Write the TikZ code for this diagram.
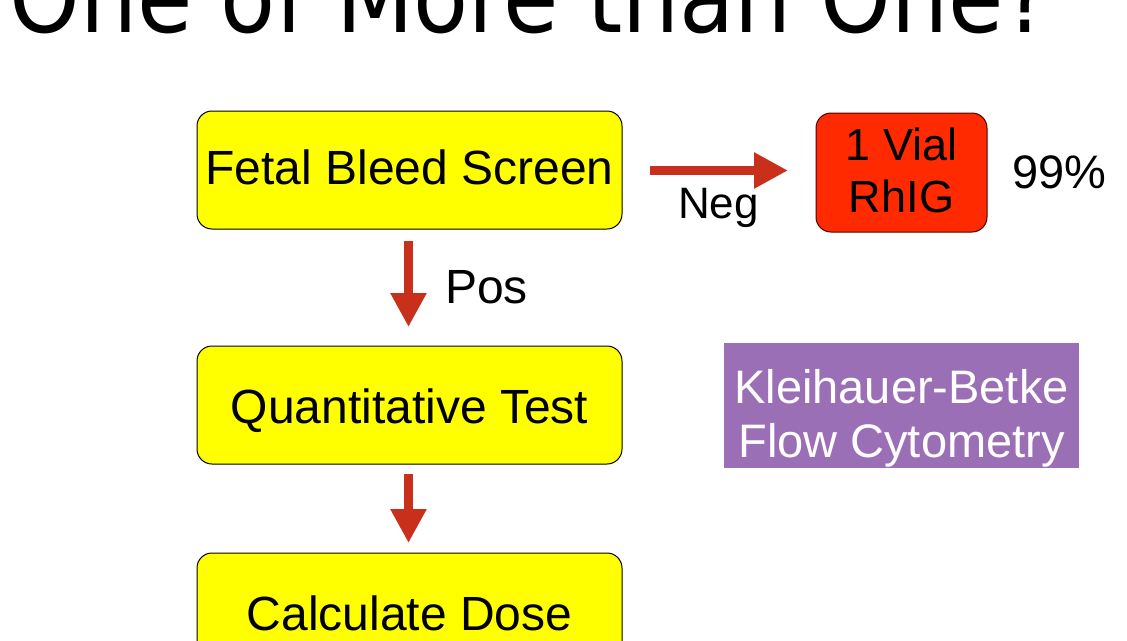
\documentclass[tikz,border=0pt]{standalone}
\usepackage{fontspec}
\setmainfont{Liberation Sans}
\newfontfamily\titlefont{DejaVu Sans Condensed}
\usetikzlibrary{arrows.meta}
\definecolor{boxyellow}{HTML}{FFFF00}
\definecolor{vialred}{HTML}{FF2A00}
\definecolor{arrowred}{HTML}{C8301C}
\definecolor{kbpurple}{HTML}{9B6FB5}
\tikzset{
  flowbox/.style={draw=black, line width=1pt, fill=boxyellow, rounded corners=15pt,
    minimum width=425pt, minimum height=118pt, inner sep=0pt,
    text height=36pt, text depth=0pt, font=\fontsize{48}{54}\selectfont},
  vialbox/.style={draw=black!70!red, line width=1pt, fill=vialred, rounded corners=15pt,
    minimum width=171pt, minimum height=119pt, inner sep=0pt,
    text height=79pt, text depth=0pt, font=\fontsize{45}{52}\selectfont},
  kbbox/.style={fill=kbpurple, text=white, minimum width=355pt, minimum height=125pt,
    inner sep=0pt, text height=104pt, text depth=0pt, font=\fontsize{47}{54}\selectfont},
  lbl/.style={font=\fontsize{48}{54}\selectfont, inner sep=0pt},
  flowarrow/.style={draw=arrowred, line width=9pt, -{Triangle[width=34pt,length=34pt]}}
}
\begin{document}
\begin{tikzpicture}[x=1pt,y=-1pt]
\useasboundingbox (0,0) rectangle (1127,640);
\clip (0,0) rectangle (1127,640);
\node[anchor=base west, inner sep=0pt, font=\titlefont\fontsize{100}{100}\selectfont] (title) at (9,32) {One of More than One?};
\node[flowbox, text height=34pt, text depth=6pt] (fbs) at (409.5,170) {Fetal Bleed Screen};
\node[flowbox] (qt) at (409.5,405) {Quantitative Test};
\node[flowbox] (cd) at (409.5,612) {Calculate Dose};
\node[vialbox] (vial) at (901.5,172.5) {\begin{tabular}[b]{@{}c@{}}1 Vial\\RhIG\end{tabular}};
\node[lbl, anchor=base west, font=\fontsize{47}{54}\selectfont] (pct) at (1012,188) {99\%};
\node[kbbox] (kb) at (901.5,405) {\begin{tabular}[b]{@{}c@{}}Kleihauer-Betke\\Flow Cytometry\end{tabular}};
\coordinate (a1s) at (408.5,241);
\coordinate (a1e) at (408.5,327);
\coordinate (a2s) at (408.5,474);
\coordinate (a2e) at (408.5,543);
\coordinate (a3s) at (650,170.5);
\coordinate (a3e) at (788,170.5);
\draw[flowarrow] (a1s) -- (a1e);
\draw[flowarrow] (a2s) -- (a2e);
\draw[flowarrow] (a3s) -- (a3e);
\node[lbl, anchor=base west] (pos) at (445,303) {Pos};
\node[lbl, anchor=base west, font=\fontsize{44}{54}\selectfont] (neg) at (678,218) {Neg};
\end{tikzpicture}
\end{document}
